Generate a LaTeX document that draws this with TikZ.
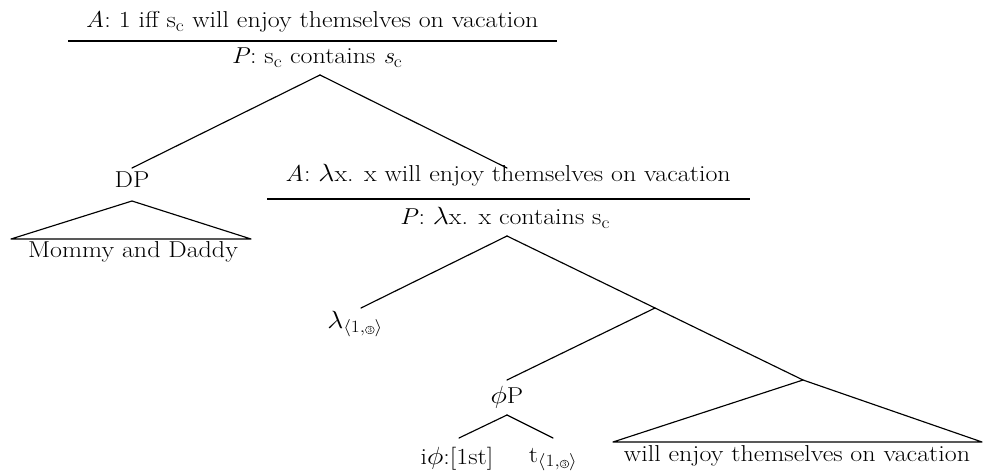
\documentclass[tikz,border=0pt]{standalone}
\usepackage{amsmath}
\newcommand{\cthree}{\tikz[baseline=-2.4pt]{\node[circle,draw,line width=0.45pt,inner sep=0.55pt,anchor=center,font=\fontsize{7}{7}\selectfont]{3};}}
\newcommand{\idx}{$_{\langle 1,\text{\cthree}\rangle}$}
\newcommand{\stretchtxt}[1]{\scalebox{1.13}[1]{#1}}
\begin{document}
\begin{tikzpicture}[x=1pt,y=-1pt,
  lbl/.style={font=\fontsize{23}{27}\selectfont, inner sep=0pt, anchor=base},
  edge/.style={line width=1.15pt, line cap=round, line join=round},
  barline/.style={line width=1.15pt}]
\useasboundingbox (0,0) rectangle (983,473);
% top label
\node[lbl] (topA) at (312,28) {\stretchtxt{\textit{A}: 1 iff s$_{\mathrm{c}}$ will enjoy themselves on vacation}};
\coordinate (bar1l) at (68,41);
\coordinate (bar1r) at (557,41);
\draw[barline] (bar1l) -- (bar1r);
\node[lbl] (topP) at (317,64) {\stretchtxt{\textit{P}: s$_{\mathrm{c}}$ contains \textit{s}$_{\mathrm{c}}$}};
\coordinate (root) at (320,75);
% DP
\coordinate (dpt) at (132,168);
\node[lbl] (dp) at (132,188) {\stretchtxt{DP}};
\coordinate (dpa) at (132,201);
\coordinate (dpl) at (11,239);
\coordinate (dpr) at (251,239);
\node[lbl] (mom) at (133,258) {\stretchtxt{Mommy and Daddy}};
% second label
\coordinate (vpt) at (507,168);
\node[lbl] (A2) at (508,182) {\stretchtxt{\textit{A}: $\lambda$x. x will enjoy themselves on vacation}};
\coordinate (bar2l) at (267,199);
\coordinate (bar2r) at (750,199);
\draw[barline] (bar2l) -- (bar2r);
\node[lbl] (P2) at (505,225) {\stretchtxt{\textit{P}: $\lambda$x. x contains s$_{\mathrm{c}}$}};
\coordinate (vpa) at (507,236);
% lambda
\coordinate (lamt) at (361,308);
\node[lbl] (lam) at (355,328) {\stretchtxt{$\lambda$\idx}};
\coordinate (mid) at (655,308);
\coordinate (low) at (803,380);
% phiP
\coordinate (phit) at (507,380);
\node[lbl] (phi) at (507,403) {\stretchtxt{$\phi$P}};
\coordinate (phia) at (507,415);
\coordinate (phil) at (459,438);
\coordinate (phir) at (553,438);
\node[lbl] (iphi) at (457,464) {\stretchtxt{i$\phi$:[1st]}};
\node[lbl] (tr) at (553,462) {\stretchtxt{t\idx}};
% VP triangle
\coordinate (vpl) at (613,442);
\coordinate (vpr) at (982,442);
\node[lbl] (vp) at (797,461) {\stretchtxt{will enjoy themselves on vacation}};
% edges
\draw[edge] (root) -- (dpt);
\draw[edge] (root) -- (vpt);
\draw[edge] (dpa) -- (dpl) -- (dpr) -- cycle;
\draw[edge] (vpa) -- (lamt);
\draw[edge] (vpa) -- (mid) -- (low);
\draw[edge] (mid) -- (phit);
\draw[edge] (phia) -- (phil);
\draw[edge] (phia) -- (phir);
\draw[edge] (low) -- (vpl) -- (vpr) -- cycle;
\end{tikzpicture}
\end{document}
